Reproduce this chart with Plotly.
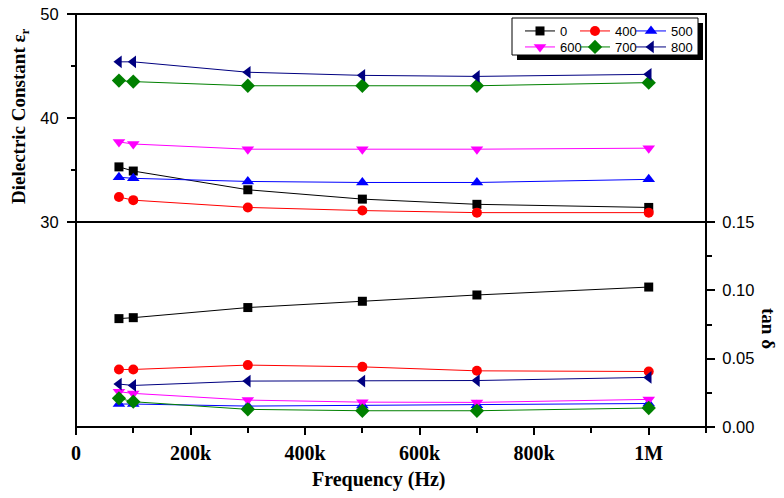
import plotly.graph_objects as go

# ---------------- data ----------------
freq = [75000, 100000, 300000, 500000, 700000, 1000000]
series_names = ["0", "400", "500", "600", "700", "800"]

eps_0 = [35.3, 34.9, 33.1, 32.2, 31.7, 31.4]
eps_400 = [32.4, 32.1, 31.4, 31.1, 30.9, 30.9]
eps_500 = [34.3, 34.2, 33.9, 33.8, 33.8, 34.1]
eps_600 = [37.7, 37.5, 37.0, 37.0, 37.0, 37.1]
eps_700 = [43.6, 43.5, 43.1, 43.1, 43.1, 43.4]
eps_800 = [45.4, 45.4, 44.4, 44.1, 44.0, 44.2]

tan_0 = [0.0793, 0.0800, 0.0874, 0.0920, 0.0966, 0.1024]
tan_400 = [0.0421, 0.0421, 0.0453, 0.0440, 0.0411, 0.0406]
tan_500 = [0.0168, 0.0168, 0.0153, 0.0158, 0.0160, 0.0172]
tan_600 = [0.0258, 0.0246, 0.0197, 0.0182, 0.0180, 0.0202]
tan_700 = [0.0210, 0.0185, 0.0129, 0.0119, 0.0119, 0.0139]
tan_800 = [0.0314, 0.0304, 0.0336, 0.0336, 0.0340, 0.0363]

x_tickvals = [0, 200000, 400000, 600000, 800000, 1000000]
x_ticktext = ["0", "200k", "400k", "600k", "800k", "1M"]
eps_tickvals = [30, 40, 50]
tan_tickvals = [0.0, 0.05, 0.10, 0.15]
tan_ticktext = ["0.00", "0.05", "0.10", "0.15"]

eps_all = [eps_0, eps_400, eps_500, eps_600, eps_700, eps_800]
tan_all = [tan_0, tan_400, tan_500, tan_600, tan_700, tan_800]

# ---------------- style ----------------
colors = ["#000000", "#FF0000", "#0000FF", "#FF00FF", "#008000", "#000080"]
symbols = ["square", "circle", "triangle-up", "triangle-down", "diamond", "triangle-left"]
msizes = [9, 10, 11, 11, 11, 11]

# page geometry (the page body has an 8px margin)
OFF = 8
PAGE_W, PAGE_H = 784, 498
W, H = PAGE_W - OFF, PAGE_H - OFF
L, R, T, B = 76, 706, 14, 427          # plot area in page pixels
SPLIT = 222
pw, ph = R - L, B - T


def px(x):
    return (x - L) / pw


def py(y):
    return (B - y) / ph


split_dom = py(SPLIT)

# legend slots: (text-left x, row-center y) in page pixels
leg_pos = [(559, 31), (614, 31), (670, 31), (559, 47), (614, 47), (670, 47)]
leg_ids = ["legend", "legend2", "legend3", "legend4", "legend5", "legend6"]

fig = go.Figure()

for i, name in enumerate(series_names):
    fig.add_trace(go.Scatter(
        x=freq, y=eps_all[i], name=name, mode="lines+markers",
        line=dict(color=colors[i], width=1),
        marker=dict(symbol=symbols[i], size=msizes[i], color=colors[i]),
        xaxis="x", yaxis="y", legend=leg_ids[i],
    ))
for i, name in enumerate(series_names):
    fig.add_trace(go.Scatter(
        x=freq, y=tan_all[i], name=name, mode="lines+markers",
        line=dict(color=colors[i], width=1),
        marker=dict(symbol=symbols[i], size=msizes[i], color=colors[i]),
        xaxis="x", yaxis="y2", showlegend=False,
    ))

sans = "Liberation Sans, Arial, sans-serif"
serif = "Liberation Serif, Times New Roman, serif"

layout_kw = dict(
    width=W, height=H, autosize=False,
    margin=dict(l=L - OFF, r=W - (R - OFF), t=T - OFF, b=H - (B - OFF), pad=0, autoexpand=False),
    paper_bgcolor="white", plot_bgcolor="white",
    xaxis=dict(
        domain=[0, 1], range=[0, 1100000], anchor="y2",
        showline=False, showgrid=False, zeroline=False,
        tickmode="array", tickvals=x_tickvals, ticktext=x_ticktext,
        ticks="outside", ticklen=7, tickwidth=2, tickcolor="black",
        minor=dict(dtick=100000, tick0=0, ticks="outside", ticklen=5, tickwidth=2, tickcolor="black"),
        tickfont=dict(family=serif, size=20, color="black", weight="bold"),
        ticklabelstandoff=1, ticklabeloverflow="allow",
    ),
    yaxis=dict(
        domain=[split_dom, 1], range=[30, 50], anchor="x", side="left",
        showline=False, showgrid=False, zeroline=False,
        tickmode="array", tickvals=eps_tickvals,
        ticks="outside", ticklen=8, tickwidth=2, tickcolor="black",
        minor=dict(dtick=5, tick0=30, ticks="outside", ticklen=4, tickwidth=2, tickcolor="black"),
        tickfont=dict(family=sans, size=16.5, color="black"),
        ticklabelstandoff=5, ticklabeloverflow="allow",
    ),
    yaxis2=dict(
        domain=[0, split_dom], range=[0, 0.15], anchor="x", side="right",
        showline=False, showgrid=False, zeroline=False,
        tickmode="array", tickvals=tan_tickvals, ticktext=tan_ticktext,
        ticks="outside", ticklen=8, tickwidth=2, tickcolor="black",
        minor=dict(dtick=0.025, tick0=0, ticks="outside", ticklen=5, tickwidth=2, tickcolor="black"),
        tickfont=dict(family=sans, size=16.5, color="black"),
        ticklabelstandoff=4, ticklabeloverflow="allow",
    ),
    showlegend=True,
)
for lid, (lx, ly) in zip(leg_ids, leg_pos):
    layout_kw[lid] = dict(
        orientation="v", x=px(lx - 39), y=py(ly), xanchor="left", yanchor="middle",
        bgcolor="rgba(0,0,0,0)", borderwidth=0, itemwidth=30,
        font=dict(family=sans, size=13, color="black"),
    )
fig.update_layout(**layout_kw)

shapes = [
    # legend shadow and box
    dict(type="rect", xref="paper", yref="paper", x0=px(517), x1=px(703), y0=py(60), y1=py(23),
         fillcolor="black", line=dict(width=0), layer="above"),
    dict(type="rect", xref="paper", yref="paper", x0=px(512), x1=px(698), y0=py(55), y1=py(18),
         fillcolor="white", line=dict(color="black", width=1), layer="above"),
    # frame
    dict(type="rect", xref="paper", yref="paper", x0=0, x1=1, y0=0, y1=1,
         line=dict(color="black", width=2), layer="above"),
    dict(type="line", xref="paper", yref="paper", x0=0, x1=1, y0=split_dom, y1=split_dom,
         line=dict(color="black", width=2), layer="above"),
]
fig.update_layout(shapes=shapes)

annotations = [
    dict(text="Dielectric Constant ε<sub>r</sub>", xref="paper", yref="paper",
         x=px(20), y=py(116), textangle=-90, showarrow=False, xanchor="center", yanchor="middle",
         font=dict(family=serif, size=19, color="black", weight="bold")),
    dict(text="tan δ", xref="paper", yref="paper",
         x=px(769), y=py(328), textangle=90, showarrow=False, xanchor="center", yanchor="middle",
         font=dict(family=serif, size=19, color="black", weight="bold")),
    dict(text="Frequency (Hz)", xref="paper", yref="paper",
         x=px(379), y=py(479), showarrow=False, xanchor="center", yanchor="middle",
         font=dict(family=serif, size=20, color="black", weight="bold")),
]
fig.update_layout(annotations=annotations)

fig.write_html("out.html")
